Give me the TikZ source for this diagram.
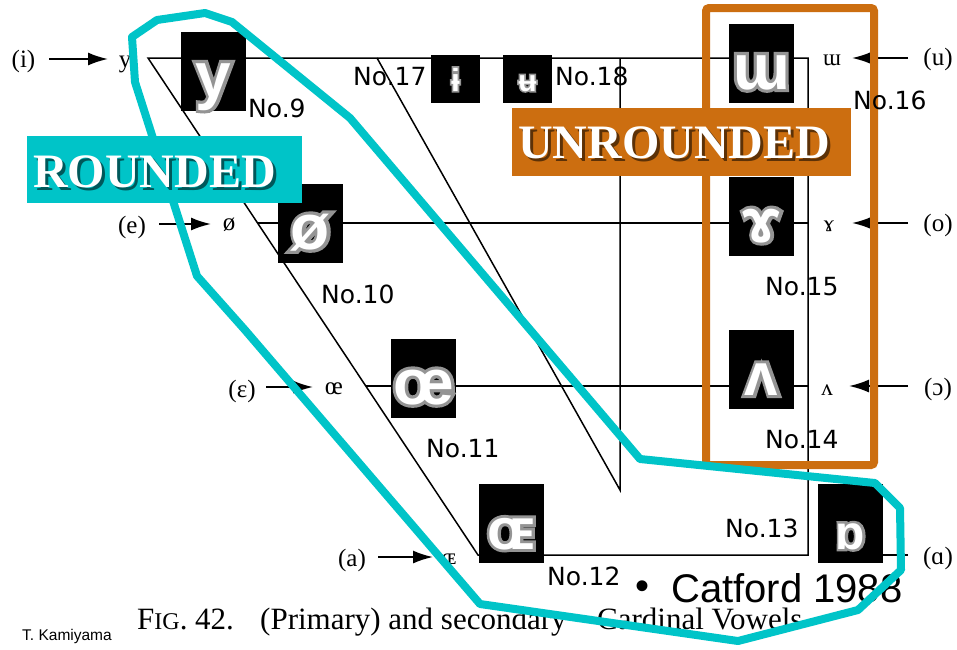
\documentclass[tikz,border=0pt]{standalone}
\usepackage{fontspec}
\setmainfont{Liberation Serif}
\newfontfamily\dvsans{DejaVu Sans}
\newfontfamily\lsans{Liberation Sans}
\newfontfamily\halofont{Liberation Sans}[BoldFeatures={FakeBold=10}]
\usetikzlibrary{arrows.meta}
\definecolor{tealc}{RGB}{0,196,200}
\definecolor{orangec}{RGB}{204,110,16}
\newcommand{\glyphfont}[1]{\lsans\bfseries\fontsize{#1}{#1}\selectfont}
\newcommand{\halo}[1]{\halofont\bfseries\fontsize{#1}{#1}\selectfont}
% name, x, baseline y, glyph, size
\newcommand{\glowglyph}[5]{%
  \node[anchor=base, inner sep=0pt, text=black!42, font=\halo{#5}] (#1h) at (#2,#3) {#4};
  \node[anchor=base, inner sep=0pt, text=white, font=\glyphfont{#5}] (#1) at (#2,#3) {#4};
}
\tikzset{
  chart/.style={line width=1.5pt, black},
  arr/.style={line width=1.8pt, -{Latex[length=20pt,width=13pt]}},
  rowlab/.style={anchor=base, inner sep=0pt, font=\fontsize{25}{25}\selectfont},
  ipalab/.style={anchor=base, inner sep=0pt, font=\fontsize{23}{23}\selectfont},
  numlab/.style={anchor=base west, inner sep=0pt, font=\dvsans\fontsize{25}{25}\selectfont},
  blackbox/.style={fill=black, draw=none, inner sep=0pt, minimum width=65pt, minimum height=79pt},
  smallbox/.style={fill=black, draw=none, inner sep=0pt, minimum width=49pt, minimum height=48pt},
  bigword/.style={anchor=base west, inner sep=0pt, font=\bfseries\fontsize{48}{48}\selectfont},
}
\begin{document}
\begin{tikzpicture}[x=1pt,y=-1pt]
\useasboundingbox (0,0) rectangle (957,649);
\fill[white] (0,0) rectangle (957,649);

% ---- chart frame ----
\coordinate (A) at (148,58);
\coordinate (TR) at (808,58);
\coordinate (BR) at (808,555);
\coordinate (BL) at (478,555);
\coordinate (E1) at (257.6,223);
\coordinate (ER) at (808,223);
\coordinate (O1) at (365.8,386);
\coordinate (OR) at (808,386);
\coordinate (C1) at (377,58);
\coordinate (C2) at (620,490);
\coordinate (C3) at (620,58);
\draw[chart] (A) -- (TR) -- (BR) -- (BL) -- cycle;
\draw[chart] (E1) -- (ER);
\draw[chart] (O1) -- (OR);
\draw[chart] (C1) -- (C2) -- (C3);

% ---- left row labels ----
\node[rowlab] (li) at (23.5,67) {(i)};
\node[rowlab] (ly) at (125,67) {y};
\coordinate (ia) at (49,59); \coordinate (ib) at (108,59);
\draw[arr] (ia) -- (ib);
\node[rowlab] (le) at (132,233) {(e)};
\node[rowlab] (lo) at (229,230) {ø};
\coordinate (ea) at (159,224); \coordinate (eb) at (211,224);
\draw[arr] (ea) -- (eb);
\node[rowlab] (leps) at (242,397) {(ε)};
\node[rowlab] (loe) at (334,394) {œ};
\coordinate (epa) at (266,387); \coordinate (epb) at (313,387);
\draw[arr] (epa) -- (epb);
\node[rowlab] (la) at (352,566) {(a)};
\node[ipalab] (lOE) at (449,564) {ɶ};
\coordinate (aa) at (378,557); \coordinate (ab) at (433,557);
\draw[arr] (aa) -- (ab);

% ---- right row labels ----
\node[rowlab] (ru) at (938,65) {(u)};
\node[ipalab] (rw) at (832,65) {ɯ};
\coordinate (ua) at (908,58); \coordinate (ub) at (852,58);
\draw[arr] (ua) -- (ub);
\node[rowlab] (ro) at (938,231) {(o)};
\node[ipalab] (rg) at (829,231) {ɤ};
\coordinate (oa) at (908,223); \coordinate (ob) at (852,223);
\draw[arr] (oa) -- (ob);
\node[rowlab] (rc) at (938,395) {(ɔ)};
\node[ipalab] (rv) at (827,395) {ʌ};
\coordinate (ca) at (908,386); \coordinate (cb) at (849,386);
\draw[arr] (ca) -- (cb);
\node[rowlab] (ralpha) at (938,564) {(ɑ)};
\coordinate (ala) at (908,555); \coordinate (alb) at (853,555);
\draw[arr] (ala) -- (alb);

% ---- caption ----
\node[anchor=base west, inner sep=0pt, font=\fontsize{31}{31}\selectfont] (cap1) at (137,629) {F{\fontsize{24}{24}\selectfont IG}. 42.};
\node[anchor=base west, inner sep=0pt, font=\fontsize{31}{31}\selectfont] (cap2) at (260,629) {(Primary) and secondary};
\node[anchor=base west, inner sep=0pt, font=\fontsize{31}{31}\selectfont] (cap3) at (597,629) {Cardinal Vowels};
\node[anchor=base west, inner sep=0pt, font=\lsans\fontsize{15.5}{15.5}\selectfont] (author) at (22,640) {T. Kamiyama};
\node[anchor=center, inner sep=0pt, font=\lsans\fontsize{40}{40}\selectfont] (bul) at (642,590) {•};
\node[anchor=base west, inner sep=0pt, font=\lsans\fontsize{40}{40}\selectfont] (catford) at (671,602) {Catford 1988};

% ---- black glyph boxes ----
\node[blackbox] (by) at (213.5,71.5) {};
\glowglyph{gy}{213.5}{97}{y}{64}
\node[blackbox] (bo) at (310.5,223.5) {};
\glowglyph{go}{310.5}{249}{ø}{64}
\node[blackbox] (boe) at (423.5,378) {};
\glowglyph{goe}{423.5}{404}{œ}{64}
\node[blackbox] (bOE) at (511.5,523.5) {};
\glowglyph{gOE}{511.5}{549}{ɶ}{58}
\node[blackbox] (bturna) at (850.5,523) {};
\glowglyph{gturna}{850.5}{549}{ɒ}{48}
\node[blackbox] (bv) at (761.5,369.5) {};
\glowglyph{gv}{761.5}{395}{ʌ}{60}
\node[blackbox] (bg) at (761.5,216) {};
\glowglyph{gg}{761.5}{242}{ɤ}{62}
\node[blackbox] (bw) at (761.5,63) {};
\glowglyph{gw}{761.5}{89}{ɯ}{64}
\node[smallbox] (bi) at (455.5,79) {};
\glowglyph{gi}{455.5}{91}{ɨ}{32}
\node[smallbox] (bu) at (527.5,79) {};
\glowglyph{gu}{527.5}{91}{ʉ}{30}

% ---- orange frame ----
\draw[orangec, line width=8pt, rounded corners=3pt] (706,8) rectangle (874,465);

% ---- teal outline ----
\draw[tealc, line width=8pt, line join=round]
  (132,37) -- (157,20) -- (205,13) -- (232,22) -- (350,118) -- (640,459)
  -- (875,483) -- (900,508) -- (901,570) -- (858,610) -- (738,641)
  -- (480,604) -- (245,330) -- (197,276) -- (135,82) -- cycle;

% ---- number labels ----
\node[numlab] (n9) at (248,117) {No.9};
\node[numlab] (n10) at (321,303) {No.10};
\node[numlab] (n11) at (426,457) {No.11};
\node[numlab] (n12) at (547,585) {No.12};
\node[numlab] (n13) at (725,537) {No.13};
\node[numlab] (n14) at (765,448) {No.14};
\node[numlab] (n15) at (765,295) {No.15};
\node[numlab] (n16) at (853,109) {No.16};
\node[numlab] (n17) at (353,85) {No.17};
\node[numlab] (n18) at (555,85) {No.18};

% ---- category labels ----
\fill[tealc] (27,136) rectangle (302,203);
\node[bigword, text=black, opacity=.55] (roundedsh) at (36,190) {ROUNDED};
\node[bigword, text=white] (rounded) at (33,187) {ROUNDED};
\fill[orangec] (512,108) rectangle (851,176);
\node[bigword, text=black, opacity=.55] (unroundedsh) at (521,161) {UNROUNDED};
\node[bigword, text=white] (unrounded) at (518,158) {UNROUNDED};
\end{tikzpicture}
\end{document}
